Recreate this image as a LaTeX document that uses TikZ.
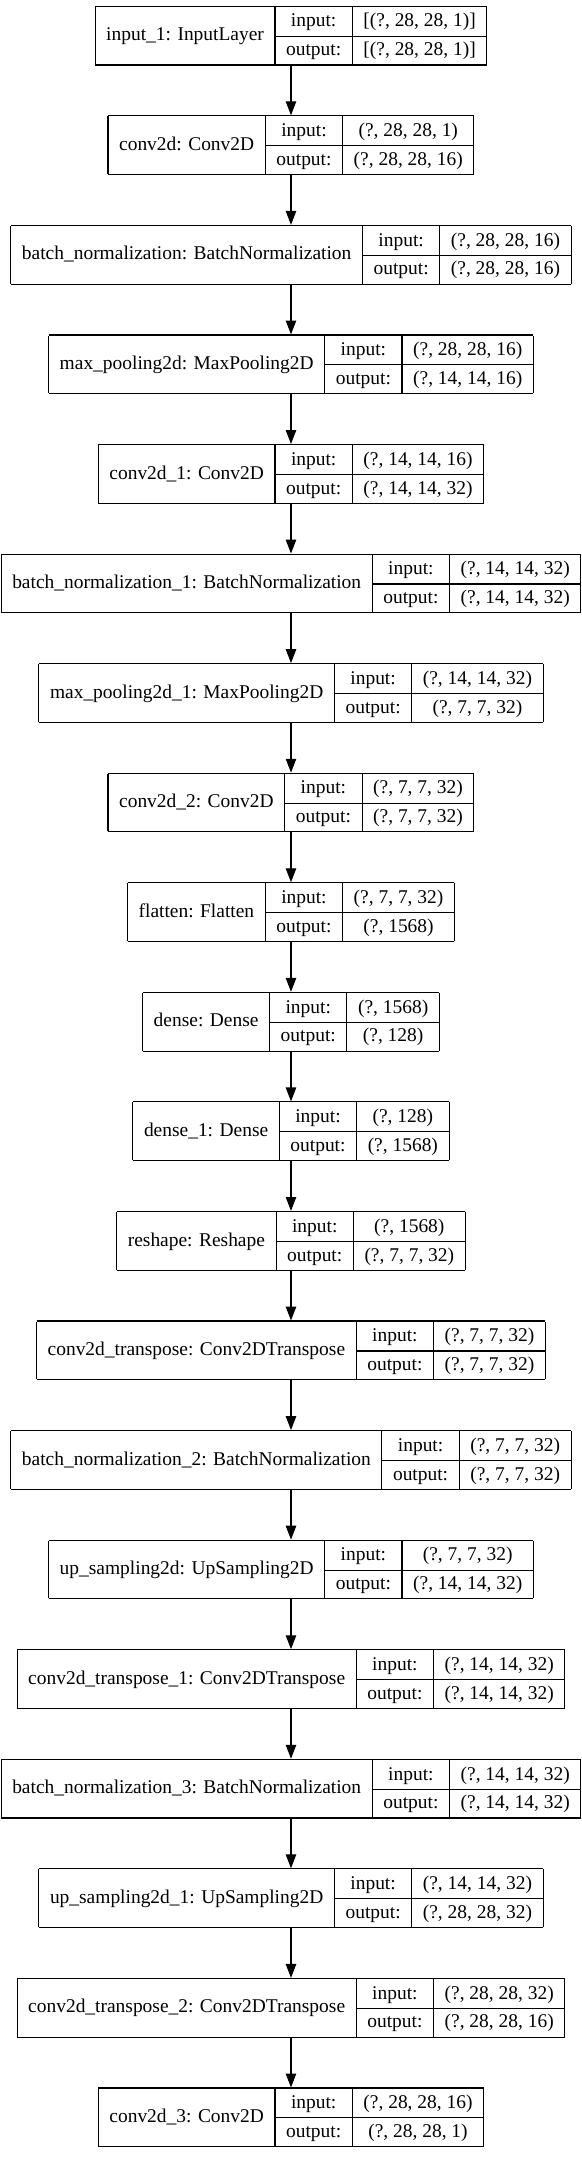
\documentclass[tikz,border=0pt]{standalone}
\usepackage{fontspec}
\setmainfont{Liberation Serif}
\usepackage{tikz}
\usetikzlibrary{positioning, arrows.meta}

\setlength{\arrayrulewidth}{0.8pt}
\setlength{\tabcolsep}{8pt}
\renewcommand{\arraystretch}{1.22}

% one keras record: name | input:/output: | shapes
\newcommand{\kerasrec}[3]{%
  \begin{tabular}{|c|c|c|}\hline
   & input: & #2 \\ \cline{2-3}
  \raisebox{10.77pt}[0pt][0pt]{#1} & output: & #3 \\ \hline
  \end{tabular}}

\begin{document}
\begin{tikzpicture}[
    node distance=35.8pt, % gap between records
    layer/.style={inner sep=0pt, outer sep=0pt, font=\fontsize{14}{17}\selectfont},
    flow/.style={line width=0.8pt, -{Triangle[length=10pt, width=7.5pt]}}
]
\useasboundingbox (0,0) rectangle (418.3pt,-1566.6pt);

%%%%% Encoder
\node[layer, anchor=north] (input1) at (209.5pt,-4.1pt) {\kerasrec{input\_1: InputLayer}{[(?, 28, 28, 1)]}{[(?, 28, 28, 1)]}};
\node[layer, below=of input1] (conv)  {\kerasrec{conv2d: Conv2D}{(?, 28, 28, 1)}{(?, 28, 28, 16)}};
\node[layer, below=of conv]   (bn)    {\kerasrec{batch\_normalization: BatchNormalization}{(?, 28, 28, 16)}{(?, 28, 28, 16)}};
\node[layer, below=of bn]     (pool)  {\kerasrec{max\_pooling2d: MaxPooling2D}{(?, 28, 28, 16)}{(?, 14, 14, 16)}};
\node[layer, below=of pool]   (conv1) {\kerasrec{conv2d\_1: Conv2D}{(?, 14, 14, 16)}{(?, 14, 14, 32)}};
\node[layer, below=of conv1]  (bn1)   {\kerasrec{batch\_normalization\_1: BatchNormalization}{(?, 14, 14, 32)}{(?, 14, 14, 32)}};
\node[layer, below=of bn1]    (pool1) {\kerasrec{max\_pooling2d\_1: MaxPooling2D}{(?, 14, 14, 32)}{(?, 7, 7, 32)}};
\node[layer, below=of pool1]  (conv2) {\kerasrec{conv2d\_2: Conv2D}{(?, 7, 7, 32)}{(?, 7, 7, 32)}};

%  Bottleneck
\node[layer, below=of conv2]  (flat)    {\kerasrec{flatten: Flatten}{(?, 7, 7, 32)}{(?, 1568)}};
\node[layer, below=of flat]   (dense)   {\kerasrec{dense: Dense}{(?, 1568)}{(?, 128)}};
\node[layer, below=of dense]  (dense1)  {\kerasrec{dense\_1: Dense}{(?, 128)}{(?, 1568)}};
\node[layer, below=of dense1] (reshape) {\kerasrec{reshape: Reshape}{(?, 1568)}{(?, 7, 7, 32)}};

% Decoder
\node[layer, below=of reshape] (convt)  {\kerasrec{conv2d\_transpose: Conv2DTranspose}{(?, 7, 7, 32)}{(?, 7, 7, 32)}};
\node[layer, below=of convt]   (bn2)    {\kerasrec{batch\_normalization\_2: BatchNormalization}{(?, 7, 7, 32)}{(?, 7, 7, 32)}};
\node[layer, below=of bn2]     (up)     {\kerasrec{up\_sampling2d: UpSampling2D}{(?, 7, 7, 32)}{(?, 14, 14, 32)}};
\node[layer, below=of up]      (convt1) {\kerasrec{conv2d\_transpose\_1: Conv2DTranspose}{(?, 14, 14, 32)}{(?, 14, 14, 32)}};
\node[layer, below=of convt1]  (bn3)    {\kerasrec{batch\_normalization\_3: BatchNormalization}{(?, 14, 14, 32)}{(?, 14, 14, 32)}};
\node[layer, below=of bn3]     (up1)    {\kerasrec{up\_sampling2d\_1: UpSampling2D}{(?, 14, 14, 32)}{(?, 28, 28, 32)}};
\node[layer, below=of up1]     (convt2) {\kerasrec{conv2d\_transpose\_2: Conv2DTranspose}{(?, 28, 28, 32)}{(?, 28, 28, 16)}};
\node[layer, below=of convt2]  (conv3)  {\kerasrec{conv2d\_3: Conv2D}{(?, 28, 28, 16)}{(?, 28, 28, 1)}};


%  Draw arrows between records

\draw[flow] (input1) -- (conv);
\draw[flow] (conv) -- (bn);
\draw[flow] (bn) -- (pool);
\draw[flow] (pool) -- (conv1);
\draw[flow] (conv1) -- (bn1);
\draw[flow] (bn1) -- (pool1);
\draw[flow] (pool1) -- (conv2);
\draw[flow] (conv2) -- (flat);
\draw[flow] (flat) -- (dense);
\draw[flow] (dense) -- (dense1);
\draw[flow] (dense1) -- (reshape);
\draw[flow] (reshape) -- (convt);
\draw[flow] (convt) -- (bn2);
\draw[flow] (bn2) -- (up);
\draw[flow] (up) -- (convt1);
\draw[flow] (convt1) -- (bn3);
\draw[flow] (bn3) -- (up1);
\draw[flow] (up1) -- (convt2);
\draw[flow] (convt2) -- (conv3);

\end{tikzpicture}
\end{document}
